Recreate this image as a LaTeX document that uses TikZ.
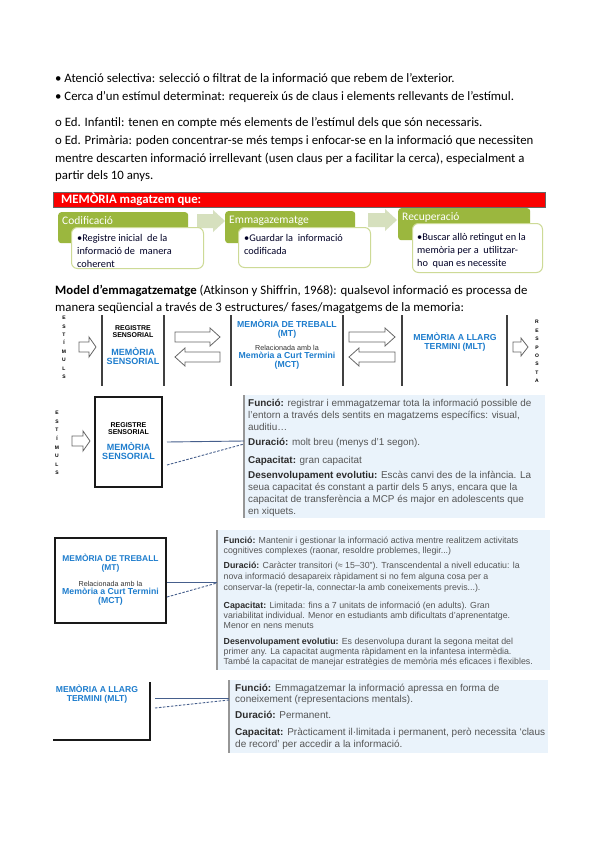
\documentclass[tikz,border=0pt]{standalone}
\usepackage{fontspec}
\setmainfont{Liberation Sans}
\newfontfamily\calib{Carlito}
\definecolor{grn}{RGB}{155,183,62}
\definecolor{grnl}{RGB}{205,218,150}
\definecolor{arrg}{RGB}{214,224,190}
\definecolor{bluet}{RGB}{30,125,205}
\definecolor{infobg}{RGB}{234,243,251}
\definecolor{infobar}{RGB}{150,150,150}
\definecolor{conn}{RGB}{70,95,140}
\definecolor{bodyc}{RGB}{85,85,85}
\definecolor{labc}{RGB}{45,45,45}
\definecolor{redb}{RGB}{250,0,0}
\newcommand\fsz[2]{\fontsize{#1}{#2}\selectfont}
\newcommand\lab[1]{{\bfseries\color{labc}#1}}
% right-pointing block arrow: style, x1, x2(tip), y, shaft half, head half, head length
\newcommand\blockR[7]{\draw[#1] (#2,#4-#5) -- (#3-#7,#4-#5) -- (#3-#7,#4-#6) -- (#3,#4) -- (#3-#7,#4+#6) -- (#3-#7,#4+#5) -- (#2,#4+#5) -- cycle;}
% left-pointing block arrow: style, x1(tip), x2, y, shaft half, head half, head length
\newcommand\blockL[7]{\draw[#1] (#3,#4-#5) -- (#2+#7,#4-#5) -- (#2+#7,#4-#6) -- (#2,#4) -- (#2+#7,#4+#6) -- (#2+#7,#4+#5) -- (#3,#4+#5) -- cycle;}
\tikzset{
  toptext/.style={anchor=base west, inner sep=0, font=\calib\fsz{12.8}{14}},
  hdr/.style={fill=grn, rounded corners=3pt, anchor=north west, inner sep=0},
  hdrtext/.style={anchor=west, inner sep=0, text=white, font=\calib\fsz{11.5}{12}},
  subbox/.style={fill=white, draw=grnl, line width=1pt, rounded corners=6pt, anchor=north west, inner sep=0},
  subtext/.style={anchor=base west, inner sep=0, align=left, text=black!85!blue, font=\calib\fsz{10.3}{13.2}},
  vlet/.style={inner sep=0, align=center, font=\bfseries\fsz{5}{8.4}},
  divline/.style={draw=black!75, line width=1.2pt},
  openarr/.style={draw=black!60, fill=white, line width=0.8pt},
  blk/.style={inner sep=0, align=center, font=\bfseries\fsz{7}{7}},
  blu/.style={inner sep=0, align=center, text=bluet, font=\bfseries\fsz{9}{9}},
  bluS/.style={inner sep=0, align=center, text=bluet, font=\bfseries\fsz{8.7}{9}},
  tiny/.style={inner sep=0, align=center, text=black!80, font=\fsz{7.2}{7}},
  infobox/.style={fill=infobg, draw=none},
  infobarline/.style={draw=infobar, line width=1.5pt},
  iA/.style={anchor=base west, inner sep=0, text=bodyc, font=\fsz{9.9}{12}},
  iB/.style={anchor=base west, inner sep=0, text=bodyc, font=\fsz{8.8}{10}},
  iC/.style={anchor=base west, inner sep=0, text=bodyc, font=\fsz{10}{11}},
  conS/.style={draw=conn, line width=0.9pt},
  conD/.style={draw=conn, line width=0.9pt, dash pattern=on 2.5pt off 1.5pt},
  memb/.style={draw=black!90, line width=1.5pt}
}
\begin{document}
\begin{tikzpicture}[x=1pt,y=-1pt]
\useasboundingbox[fill=white] (0,0) rectangle (599,848);

% ---------- top text ----------
\node[toptext] (t1) at (55,83) {• Atenció selectiva: selecció o filtrat de la informació que rebem de l’exterior.};
\node[toptext] (t2) at (55,101) {• Cerca d’un estímul determinat: requereix ús de claus i elements rellevants de l’estímul.};
\node[toptext] (t3) at (55,126) {o Ed. Infantil: tenen en compte més elements de l’estímul dels que són necessaris.};
\node[toptext] (t4) at (55,144) {o Ed. Primària: poden concentrar-se més temps i enfocar-se en la informació que necessiten};
\node[toptext] (t5) at (55,162) {mentre descarten informació irrellevant (usen claus per a facilitar la cerca), especialment a};
\node[toptext] (t6) at (55,179) {partir dels 10 anys.};

% ---------- red bar and green process ----------
\draw[fill=redb, draw=black!60, line width=0.6pt] (53,192) rectangle (545,207);
\node[anchor=west, inner sep=0, text=white, font=\calib\bfseries\fsz{12.8}{13}] (redt) at (61,199.5) {MEMÒRIA magatzem que:};

\blockR{fill=arrg, draw=none}{197}{225}{221}{7}{11}{12}
\blockR{fill=arrg, draw=none}{368}{397}{220}{7}{11}{12}

\node[hdr, minimum width=130pt, minimum height=31pt] (cod) at (58,212) {};
\node[hdrtext] (codt) at (62,220.5) {Codificació};
\node[subbox, minimum width=132pt, minimum height=41pt] (codb) at (71,227) {};
\node[subtext] (codx) at (77,267.9) {•Registre inicial~ de la\\informació de~ manera\\coherent};

\node[hdr, minimum width=130pt, minimum height=32pt] (emm) at (225,211) {};
\node[hdrtext] (emmt) at (229,220.5) {Emmagazematge};
\node[subbox, minimum width=132pt, minimum height=40pt] (emmb) at (238,227) {};
\node[subtext] (emmx) at (244,254.7) {•Guardar la~ informació\\codificada};

\node[hdr, minimum width=132pt, minimum height=32pt] (rec) at (398,208) {};
\node[hdrtext] (rect) at (402,217.5) {Recuperació};
\node[subbox, minimum width=130pt, minimum height=49pt] (recb) at (412,223) {};
\node[subtext] (recx) at (417,266.9) {•Buscar allò retingut en la\\memòria per a~ utilitzar-\\ho~ quan es necessite};

% ---------- model text ----------
\node[toptext] (m1) at (55,294) {\bfseries Model d’emmagatzematge\mdseries{} (Atkinson y Shiffrin, 1968): qualsevol informació es processa de};
\node[toptext] (m2) at (55,311) {manera seqüencial a través de 3 estructures/ fases/magatgems de la memoria:};

% ---------- flow diagram ----------
\node[vlet] (est1) at (64,347.5) {E\\S\\T\\Í\\M\\U\\L\\S};
\blockR{openarr}{79}{96}{347}{5}{10}{7}
\draw[divline] (102,315) -- (102,386);
\node[blk] (rs1a) at (133,331.5) {REGISTRE\\SENSORIAL};
\node[blu] (rs1b) at (133,356.5) {MEMÒRIA\\SENSORIAL};
\draw[divline] (164,315) -- (164,386);
\blockR{openarr}{175}{220}{337}{5}{9}{10}
\blockL{openarr}{175}{220}{357}{5}{9}{10}
\draw[divline] (231,315) -- (231,386);
\node[bluS] (mt1a) at (287,329.5) {MEMÒRIA DE TREBALL\\(MT)};
\node[tiny] (mt1b) at (287,348) {Relacionada amb la};
\node[bluS] (mt1c) at (287,361) {Memòria a Curt Termini\\(MCT)};
\draw[divline] (343,315) -- (343,386);
\blockR{openarr}{349}{395}{337}{5}{9}{10}
\blockL{openarr}{349}{395}{357}{5}{9}{10}
\draw[divline] (402,315) -- (402,386);
\node[bluS] (mlt1) at (455,342.5) {MEMÒRIA A LLARG\\TERMINI (MLT)};
\draw[divline] (507,315) -- (507,386);
\blockR{openarr}{513}{528}{347}{5}{9}{7}
\node[vlet] (resp) at (537,351.5) {R\\E\\S\\P\\O\\S\\T\\A};

% ---------- registre sensorial detail ----------
\node[vlet, font=\bfseries\fsz{5}{8.6}] (est2) at (57,443) {E\\S\\T\\Í\\M\\U\\L\\S};
\blockR{openarr}{72}{90}{441}{5}{10}{7}
\draw[memb] (95,397) rectangle (162,487);
\node[blk] (rs2a) at (128.5,428.5) {REGISTRE\\SENSORIAL};
\node[blu] (rs2b) at (128.5,451.5) {MEMÒRIA\\SENSORIAL};
\coordinate (rsA) at (167,442);
\coordinate (rsB) at (167,465);
\path[infobox] (244,395) rectangle (545,518);
\draw[infobarline] (244,395) -- (244,518);
\coordinate (ib1A) at (244,441);
\coordinate (ib1B) at (244,444);
\draw[conS] (rsA) -- (ib1A);
\draw[conD] (rsB) -- (ib1B);
\node[iA] (a1) at (248,406.5) {\lab{Funció:} registrar i emmagatzemar tota la informació possible de};
\node[iA] (a2) at (248,418.5) {l'entorn a través dels sentits en magatzems específics: visual,};
\node[iA] (a3) at (248,430.5) {auditiu…};
\node[iA] (a4) at (248,445.5) {\lab{Duració:} molt breu (menys d'1 segon).};
\node[iA] (a5) at (248,463) {\lab{Capacitat:} gran capacitat};
\node[iA] (a6) at (248,478) {\lab{Desenvolupament evolutiu:} Escàs canvi des de la infància. La};
\node[iA] (a7) at (248,490) {seua capacitat és constant a partir dels 5 anys, encara que la};
\node[iA] (a8) at (248,502) {capacitat de transferència a MCP és major en adolescents que};
\node[iA] (a9) at (248,514.5) {en xiquets.};

% ---------- memoria de treball detail ----------
\draw[memb] (55,538) rectangle (166,623);
\node[bluS, font=\bfseries\fsz{8.4}{9.4}] (mt2a) at (110.5,563) {MEMÒRIA DE TREBALL\\(MT)};
\node[tiny] (mt2b) at (110.5,584.3) {Relacionada amb la};
\node[bluS] (mt2c) at (110.5,596.5) {Memòria a Curt Termini\\(MCT)};
\coordinate (mtA) at (167,582);
\coordinate (mtB) at (167,597);
\path[infobox] (217,530) rectangle (550,670);
\draw[infobarline] (217,530) -- (217,670);
\coordinate (ib2A) at (217,582);
\coordinate (ib2B) at (217,583);
\draw[conS] (mtA) -- (ib2A);
\draw[conD] (mtB) -- (ib2B);
\node[iB] (b1) at (223.5,543) {\lab{Funció:} Mantenir i gestionar la informació activa mentre realitzem activitats};
\node[iB] (b2) at (223.5,553) {cognitives complexes (raonar, resoldre problemes, llegir...)};
\node[iB] (b3) at (223.5,568.5) {\lab{Duració:} Caràcter transitori (≈ 15–30”). Transcendental a nivell educatiu: la};
\node[iB] (b4) at (223.5,579.5) {nova informació desapareix ràpidament si no fem alguna cosa per a};
\node[iB] (b5) at (223.5,590.5) {conservar-la (repetir-la, connectar-la amb coneixements previs...).};
\node[iB] (b6) at (223.5,608) {\lab{Capacitat:} Limitada: fins a 7 unitats de informació (en adults). Gran};
\node[iB] (b7) at (223.5,618) {variabilitat individual. Menor en estudiants amb dificultats d'aprenentatge.};
\node[iB] (b8) at (223.5,628) {Menor en nens menuts};
\node[iB] (b9) at (223.5,644.5) {\lab{Desenvolupament evolutiu:} Es desenvolupa durant la segona meitat del};
\node[iB] (b10) at (223.5,654.5) {primer any. La capacitat augmenta ràpidament en la infantesa intermèdia.};
\node[iB] (b11) at (223.5,664.5) {També la capacitat de manejar estratègies de memòria més eficaces i flexibles.};

% ---------- memoria a llarg termini detail ----------
\node[blu, font=\bfseries\fsz{8.6}{8.6}] (mlt2) at (97,694) {MEMÒRIA A LLARG\\TERMINI (MLT)};
\draw[memb] (150,682) -- (150,740) -- (53,740);
\coordinate (mlA) at (155,698);
\coordinate (mlB) at (155,708);
\path[infobox] (229,680) rectangle (548,753);
\draw[infobarline] (229,680) -- (229,753);
\coordinate (ib3A) at (229,698);
\coordinate (ib3B) at (229,700);
\draw[conS] (mlA) -- (ib3A);
\draw[conD] (mlB) -- (ib3B);
\node[iC] (c1) at (235,691) {\lab{Funció:} Emmagatzemar la informació apressa en forma de};
\node[iC] (c2) at (235,702) {coneixement (representacions mentals).};
\node[iC] (c3) at (235,718) {\lab{Duració:} Permanent.};
\node[iC] (c4) at (235,735) {\lab{Capacitat:} Pràcticament il·limitada i permanent, però necessita ‘claus};
\node[iC] (c5) at (235,747) {de record’ per accedir a la informació.};
\end{tikzpicture}
\end{document}
